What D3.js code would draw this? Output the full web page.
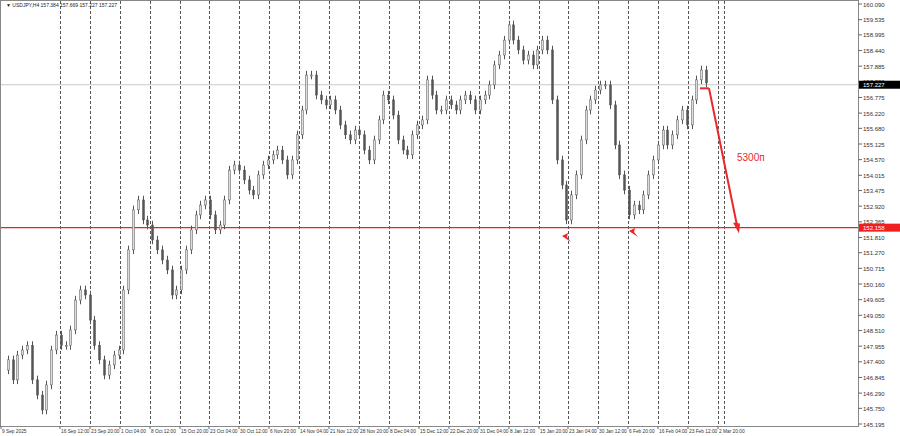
<!DOCTYPE html><html><head><meta charset="utf-8"><script src="https://cdn.jsdelivr.net/npm/d3@7"></script>
<style>body{margin:0;background:#fff}svg{display:block;font-family:"Liberation Sans",Arial,sans-serif}</style></head><body><svg id="c" width="900" height="436"></svg><script>
const closes=[147.11,147.47,146.76,147.64,147.82,147.98,146.76,146.22,145.69,146.58,147.82,148.35,147.98,147.98,148.53,149.59,149.95,149.77,148.88,147.98,147.47,146.93,147.29,147.64,147.82,149.95,151.37,152.79,153.14,152.43,152.25,151.72,151.37,151.01,150.66,149.77,149.95,150.66,151.37,152.08,152.61,152.96,153.14,152.61,152.08,152.25,153.14,154.20,154.38,154.20,153.85,153.49,153.32,154.03,154.38,154.56,154.74,154.91,154.56,154.03,154.56,155.45,156.33,157.57,157.57,156.86,156.69,156.51,156.69,156.33,155.80,155.45,155.27,155.62,155.45,154.91,154.56,155.27,155.98,156.86,156.69,156.15,155.27,154.91,154.74,155.45,155.80,155.98,157.40,156.86,156.33,156.33,156.69,156.51,156.33,156.69,156.86,156.69,156.33,156.69,156.86,157.22,157.93,158.28,158.81,159.35,158.81,158.46,158.10,158.28,157.93,158.46,158.81,158.46,156.69,154.56,153.67,152.43,153.32,154.03,155.27,156.33,156.69,157.04,157.22,157.22,156.51,155.09,154.03,153.49,152.61,152.96,152.79,153.32,154.03,154.56,155.09,155.62,155.09,155.45,155.98,156.33,155.80,156.69,157.40,157.75,157.29];
const yTicks=["160.090","159.535","158.995","158.440","157.885","157.330","156.775","156.220","155.680","155.125","154.570","154.015","153.475","152.920","152.365","151.810","151.270","150.715","150.160","149.605","149.050","148.510","147.955","147.400","146.845","146.290","145.750","145.195"];
const xLabels=["9 Sep 2025","16 Sep 12:00","23 Sep 20:00","1 Oct 04:00","8 Oct 12:00","15 Oct 20:00","23 Oct 04:00","30 Oct 12:00","6 Nov 20:00","14 Nov 04:00","21 Nov 12:00","28 Nov 20:00","8 Dec 04:00","15 Dec 12:00","22 Dec 20:00","31 Dec 04:00","8 Jan 12:00","15 Jan 20:00","23 Jan 04:00","30 Jan 12:00","6 Feb 20:00","16 Feb 04:00","23 Feb 12:00","2 Mar 20:00"];
const currentPrice=157.227, supportPrice=152.158, targetPrice=151.95;
const svg=d3.select("#c");
const W=858,H=426;
const y=d3.scaleLinear().domain([145.195,160.090]).range([424,4]);
const x=d3.scaleLinear().domain([0,closes.length-1]).range([3,706]);
const xl=d3.scaleLinear().domain([0,23]).range([0,688]);
svg.append("rect").attr("x",0.5).attr("y",0.5).attr("width",W).attr("height",H).attr("fill","#fff").attr("stroke","#888");
svg.selectAll("line.v").data(xLabels.slice(1)).join("line").attr("x1",(d,i)=>Math.round(xl(i+1))+30.5).attr("x2",(d,i)=>Math.round(xl(i+1))+30.5)
 .attr("y1",1).attr("y2",H).attr("stroke","#555").attr("stroke-dasharray","3,2");
svg.append("line").attr("x1",724.5).attr("x2",724.5).attr("y1",1).attr("y2",H).attr("stroke","#555").attr("stroke-dasharray","3,2");
yTicks.forEach(t=>{const yy=y(+t);svg.append("line").attr("x1",W).attr("x2",W+4).attr("y1",yy).attr("y2",yy).attr("stroke","#666");
 svg.append("text").attr("x",W+5).attr("y",yy+2.5).attr("font-size",6).attr("fill","#333").text(t);});
xLabels.forEach((t,i)=>{const xx=i==0?2:Math.round(xl(i))+31;svg.append("line").attr("x1",xx-1).attr("x2",xx-1).attr("y1",H).attr("y2",H+3).attr("stroke","#666");
 svg.append("text").attr("x",xx).attr("y",H+7).attr("font-size",4.8).attr("fill","#333").text(t);});
svg.append("line").attr("x1",1).attr("x2",W).attr("y1",y(currentPrice)).attr("y2",y(currentPrice)).attr("stroke","#c8c8c8");
svg.append("line").attr("x1",1).attr("x2",W).attr("y1",y(supportPrice)).attr("y2",y(supportPrice)).attr("stroke","#f02020").attr("stroke-width",1.2);
const g=svg.append("g");
closes.forEach((c,i)=>{if(i==0)return;const o=closes[i-1];const hi=Math.max(o,c)+0.15,lo=Math.min(o,c)-0.15;const xx=Math.round(x(i))+0.5;
 g.append("line").attr("x1",xx).attr("x2",xx).attr("y1",y(hi)).attr("y2",y(lo)).attr("stroke","#555");
 g.append("rect").attr("x",xx-1).attr("y",y(Math.max(o,c))).attr("width",2).attr("height",Math.max(1,Math.abs(y(o)-y(c)))).attr("fill",c>=o?"#ddd":"#555").attr("stroke","#555").attr("stroke-width",0.5);});
svg.append("rect").attr("x",W+1).attr("y",y(currentPrice)-4).attr("width",41).attr("height",8).attr("fill","#000");
svg.append("text").attr("x",W+5).attr("y",y(currentPrice)+2.5).attr("font-size",6).attr("fill","#fff").text("157.227");
svg.append("rect").attr("x",W+1).attr("y",y(supportPrice)-4).attr("width",41).attr("height",8).attr("fill","#f02020");
svg.append("text").attr("x",W+5).attr("y",y(supportPrice)+2.5).attr("font-size",6).attr("fill","#fff").text("152.158");
svg.append("text").attr("x",6).attr("y",7).attr("font-size",5).attr("fill","#222").text("▼ USDJPY,H4  157.384 157.669 157.227 157.227");
const ax=x(closes.length-1);
svg.append("line").attr("x1",ax-6).attr("x2",ax+3).attr("y1",y(157.1)).attr("y2",y(157.1)).attr("stroke","#e8282b").attr("stroke-width",2);
svg.append("line").attr("x1",ax+3).attr("x2",737).attr("y1",y(157.1)).attr("y2",y(targetPrice)-8).attr("stroke","#e8282b").attr("stroke-width",2);
const tx=739,ty=y(targetPrice);
svg.append("path").attr("d",`M${tx},${ty} L${tx-6},${ty-11} L${tx+1},${ty-10} Z`).attr("fill","#e8282b");
svg.append("text").attr("x",737).attr("y",161).attr("font-size",10).attr("fill","#e8282b").text("5300п");
[[562,236],[629,231]].forEach(([px,py])=>svg.append("path").attr("d",`M${px},${py} L${px+9},${py+6} L${px+5},${py+1} L${px+6},${py-3} Z`).attr("fill","#e8282b"));
</script></body></html>
